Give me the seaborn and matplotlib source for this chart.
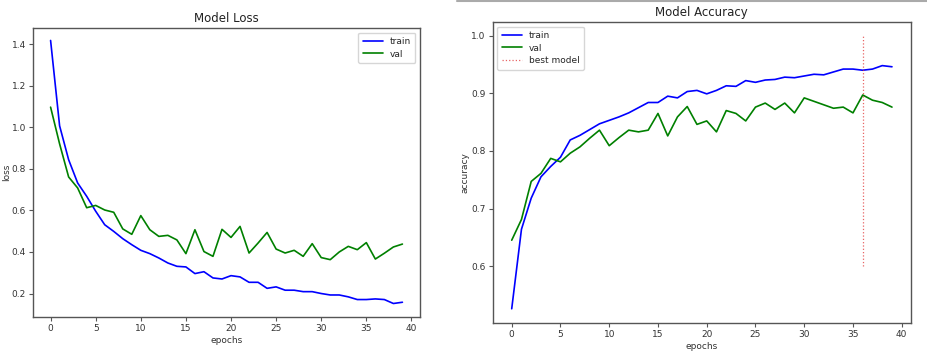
import matplotlib
matplotlib.use("Agg")
import matplotlib.pyplot as plt
import seaborn as sns
import pandas as pd
from matplotlib.lines import Line2D

epochs = list(range(40))

loss_train = [1.418, 1.007, 0.844, 0.732, 0.668, 0.596, 0.531, 0.499, 0.464, 0.435,
              0.408, 0.392, 0.371, 0.347, 0.331, 0.328, 0.296, 0.305, 0.275, 0.270,
              0.286, 0.280, 0.254, 0.254, 0.225, 0.232, 0.216, 0.216, 0.209, 0.209,
              0.200, 0.193, 0.193, 0.184, 0.171, 0.171, 0.174, 0.171, 0.152, 0.158]
loss_val = [1.097, 0.920, 0.761, 0.708, 0.613, 0.624, 0.602, 0.591, 0.511, 0.485,
            0.575, 0.507, 0.475, 0.480, 0.458, 0.392, 0.507, 0.402, 0.379, 0.509,
            0.470, 0.523, 0.395, 0.443, 0.494, 0.414, 0.395, 0.408, 0.379, 0.440,
            0.373, 0.363, 0.400, 0.427, 0.411, 0.445, 0.366, 0.394, 0.424, 0.438]

acc_train = [0.526, 0.664, 0.718, 0.755, 0.773, 0.789, 0.819, 0.827, 0.837, 0.847,
             0.853, 0.859, 0.866, 0.875, 0.884, 0.884, 0.895, 0.892, 0.903, 0.905,
             0.899, 0.905, 0.913, 0.912, 0.922, 0.919, 0.923, 0.924, 0.928, 0.927,
             0.930, 0.933, 0.932, 0.937, 0.942, 0.942, 0.940, 0.942, 0.948, 0.946]
acc_val = [0.645, 0.681, 0.747, 0.761, 0.787, 0.781, 0.796, 0.807, 0.822, 0.836,
           0.809, 0.823, 0.836, 0.833, 0.836, 0.865, 0.826, 0.859, 0.877, 0.846,
           0.852, 0.833, 0.870, 0.865, 0.852, 0.876, 0.883, 0.872, 0.883, 0.866,
           0.892, 0.886, 0.880, 0.874, 0.876, 0.866, 0.897, 0.888, 0.884, 0.876]

best_epoch = 36
best_range = [0.6, 1.0]

sns.set_theme(style="white")
plt.rcParams['font.family'] = ['DejaVu Sans']
plt.rcParams['axes.edgecolor'] = '#555555'
plt.rcParams['axes.linewidth'] = 1.0
plt.rcParams['xtick.color'] = '#555555'
plt.rcParams['ytick.color'] = '#555555'
plt.rcParams['xtick.labelcolor'] = '#333333'
plt.rcParams['ytick.labelcolor'] = '#333333'

W, H = 928, 356
fig = plt.figure(figsize=(W / 100, H / 100), dpi=100)

ax1 = fig.add_axes([33 / W, (H - 317) / H, (420 - 33) / W, (317 - 28) / H])
ax2 = fig.add_axes([492.7 / W, (H - 323) / H, (911 - 492.7) / W, (323 - 22) / H])

df_loss = pd.DataFrame({"epochs": epochs, "train": loss_train, "val": loss_val})
df_acc = pd.DataFrame({"epochs": epochs, "train": acc_train, "val": acc_val})

lw = 1.2
for ax, df, ylabel, title, lp in [(ax1, df_loss, "loss", "Model Loss", 0.5),
                                  (ax2, df_acc, "accuracy", "Model Accuracy", 1.5)]:
    sns.lineplot(data=df, x="epochs", y="train", ax=ax, color="blue", lw=lw, label="train")
    sns.lineplot(data=df, x="epochs", y="val", ax=ax, color="green", lw=lw, label="val")
    ax.set_title(title, fontsize=8.5, color='#222222', pad=4)
    ax.set_xlabel("epochs", fontsize=6.5, color='#333333', labelpad=2)
    ax.set_ylabel(ylabel, fontsize=6.5, color='#333333', labelpad=lp)
    ax.tick_params(axis='both', labelsize=6.5, length=3, width=0.8, pad=2,
                   bottom=True, left=True)
    ax.set_xticks([0, 5, 10, 15, 20, 25, 30, 35, 40])

ax2.plot([best_epoch, best_epoch], best_range, color='#e03030', lw=0.9, ls=':', alpha=0.75,
         label='best model')

ax1.set_xlim(-1.95, 40.95)
ax1.set_ylim(0.087, 1.478)
ax1.set_yticks([0.2, 0.4, 0.6, 0.8, 1.0, 1.2, 1.4])
ax2.set_xlim(-1.95, 40.95)
ax2.set_ylim(0.5013, 1.0237)
ax2.set_yticks([0.6, 0.7, 0.8, 0.9, 1.0])

ax1.legend(loc='upper right', fontsize=6.5, handlelength=2.2, borderpad=0.5,
           labelspacing=0.4, frameon=True, fancybox=True)
ax2.legend(loc='upper left', fontsize=6.5, handlelength=2.2, borderpad=0.5,
           labelspacing=0.4, frameon=True, fancybox=True)

fig.add_artist(Line2D([457 / W, 1.0], [1 - 1 / H, 1 - 1 / H], transform=fig.transFigure,
                      color='#aaaaaa', lw=1.5))

fig.savefig("out.png", dpi=100)
